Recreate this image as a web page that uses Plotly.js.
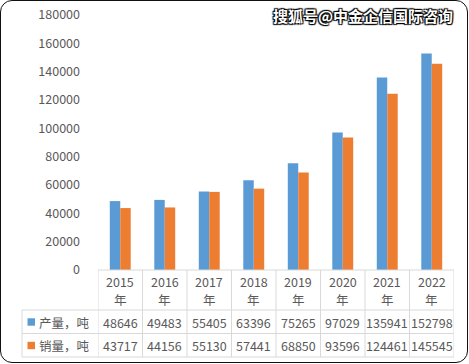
<!DOCTYPE html>
<html>
<head>
<meta charset="utf-8">
<script src="https://cdn.plot.ly/plotly-3.0.1.min.js"></script>
<style>
html,body{margin:0;padding:0;background:#fff;}
#wrap{position:relative;width:469px;height:364px;}
#chart{position:absolute;left:0;top:0;width:469px;height:364px;}
#frame{position:absolute;left:0;top:0;width:466px;height:361px;border:1.5px solid #111;border-radius:12px;pointer-events:none;}
</style>
</head>
<body>
<div id="wrap"><div id="chart"></div><div id="frame"></div></div>
<script>
const years = ["2015", "2016", "2017", "2018", "2019", "2020", "2021", "2022"];
const yearSuffix = "年";
const seriesNames = ["产量，吨", "销量，吨"];
const production = [48646, 49483, 55405, 63396, 75265, 97029, 135941, 152798];
const sales = [43717, 44156, 55130, 57441, 68850, 93596, 124461, 145545];
const yTicks = [0, 20000, 40000, 60000, 80000, 100000, 120000, 140000, 160000, 180000];
const watermark = "搜狐号@中金企信国际咨询";

const colors = ["#5B9BD5", "#ED7D31"];
const txt = "#595959";
const grid = "#D9D9D9";
const fontFam = "'Noto Sans CJK SC', 'Noto Sans', sans-serif";
const idx = years.map((_, i) => i);

const data = [
  {type: "bar", x: idx, y: production, name: seriesNames[0], marker: {color: colors[0]}},
  {type: "bar", x: idx, y: sales, name: seriesNames[1], marker: {color: colors[1]}}
];

// table geometry (paper coords: plot area is y 0..1; below is negative)
const plotH = 255; // px
const py = px => -(px - 270) / plotH; // convert page y px to paper y
const plotL = 98, plotW = 356;
const pxX = px => (px - plotL) / plotW;

const shapes = [];
const annotations = [];
const line = {color: grid, width: 1};
// horizontal lines
shapes.push({type: "line", xref: "x", yref: "paper", x0: -0.5, x1: years.length - 0.5, y0: 0, y1: 0, line});
[310, 333.5, 357].forEach(yy => {
  shapes.push({type: "line", xref: "paper", yref: "paper", x0: pxX(22), x1: 1, y0: py(yy), y1: py(yy), line});
});
// vertical lines
for (let i = 0; i <= years.length; i++) {
  shapes.push({type: "line", xref: "x", yref: "paper", x0: i - 0.5, x1: i - 0.5, y0: 0, y1: py(357), line});
}
shapes.push({type: "line", xref: "paper", yref: "paper", x0: pxX(22), x1: pxX(22), y0: py(310), y1: py(357), line});

// header labels
years.forEach((yr, i) => {
  annotations.push({xref: "x", yref: "paper", x: i, y: py(281), text: yr, showarrow: false,
    font: {size: 12.5, color: txt, family: fontFam}, xanchor: "center", yanchor: "middle"});
  annotations.push({xref: "x", yref: "paper", x: i, y: py(299), text: yearSuffix, showarrow: false,
    font: {size: 12.5, color: txt, family: fontFam}, xanchor: "center", yanchor: "middle"});
});
// rows
[production, sales].forEach((arr, r) => {
  const yy = r === 0 ? 322 : 345.5;
  arr.forEach((v, i) => {
    annotations.push({xref: "x", yref: "paper", x: i, y: py(yy), text: String(v), showarrow: false,
      font: {size: 12.5, color: txt, family: fontFam}, xanchor: "center", yanchor: "middle"});
  });
  shapes.push({type: "rect", xref: "paper", yref: "paper", x0: pxX(27.5), x1: pxX(35), y0: py(yy - 3.7), y1: py(yy + 3.7),
    fillcolor: colors[r], line: {width: 0}});
  annotations.push({xref: "paper", yref: "paper", x: pxX(37), y: py(yy), text: seriesNames[r], showarrow: false,
    font: {size: 12.5, color: txt, family: fontFam}, xanchor: "left", yanchor: "middle"});
});

annotations.push({xref: "paper", yref: "paper", x: pxX(455), y: py(15), text: "<b>" + watermark + "</b>", showarrow: false,
  xanchor: "right", yanchor: "middle",
  font: {size: 15, color: "#ffffff", family: fontFam, shadow: "1px 1px 1px #000, -1px -1px 1px #000, 1px -1px 1px #000, -1px 1px 1px #000"}});

const layout = {
  width: 469, height: 364,
  margin: {l: 98, r: 15, t: 15, b: 94, pad: 0},
  paper_bgcolor: "#fff", plot_bgcolor: "#fff",
  barmode: "group", bargap: 0.53, bargroupgap: 0,
  showlegend: false,
  xaxis: {range: [-0.5, years.length - 0.5], showticklabels: false, ticks: "", showgrid: false, zeroline: false, showline: false, fixedrange: true},
  yaxis: {range: [0, 180000], tickvals: yTicks, ticktext: yTicks.map(String), showgrid: false, zeroline: false, showline: false,
    ticks: "", ticklabelstandoff: 17, tickfont: {size: 12.5, color: txt, family: fontFam}},
  shapes, annotations
};

Plotly.newPlot("chart", data, layout, {displayModeBar: false, staticPlot: true});
</script>
</body>
</html>
